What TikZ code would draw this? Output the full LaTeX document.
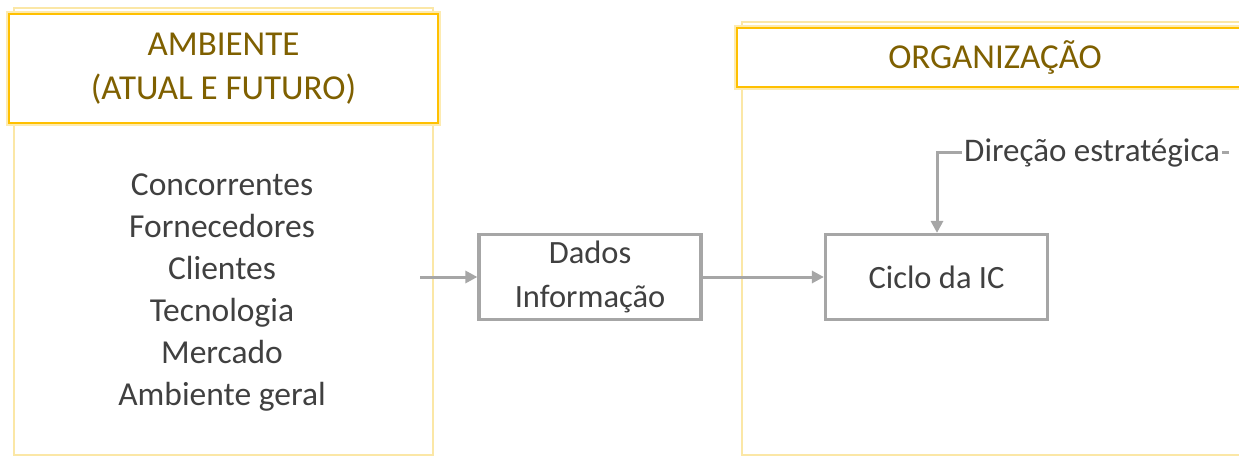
\documentclass[tikz,border=0pt]{standalone}
\usepackage{fontspec}
\setmainfont{Carlito}
\usetikzlibrary{arrows.meta}
\definecolor{gold}{HTML}{FFC000}
\definecolor{goldhalo}{HTML}{FDEBB0}
\definecolor{goldpale}{HTML}{FBE7A6}
\definecolor{goldtext}{HTML}{7F6000}
\definecolor{ink}{HTML}{404040}
\definecolor{wire}{HTML}{A6A6A6}
\tikzset{
  panel/.style={draw=goldpale, line width=1.8pt},
  header/.style={draw=gold, line width=2.8pt, fill=white,
    text=goldtext, align=center, inner sep=0pt,
    font=\fontsize{35}{44}\selectfont},
  halo/.style={draw=goldhalo, line width=6.5pt},
  listtext/.style={text=ink, align=center, inner sep=0pt,
    font=\fontsize{33.5}{42}\selectfont},
  procbox/.style={draw=wire, line width=3.2pt, fill=white, text=ink,
    align=center, inner sep=0pt, minimum width=222pt, minimum height=85pt,
    font=\fontsize{32.5}{44}\selectfont},
  flow/.style={draw=wire, line width=3pt,
    -{Triangle[length=12pt,width=12pt]}},
}
\begin{document}
\begin{tikzpicture}[x=1pt,y=-1pt]
\useasboundingbox (0,0) rectangle (1239,457);
\clip (0,0) rectangle (1239,457);

% panels for the environment and the organization
\draw[panel] (14,8) rectangle (433,455);
\draw[panel] (742,22) rectangle (1260,455);

% headers
\draw[halo] (9,14) rectangle (438,123);
\node[header, minimum width=429pt, minimum height=109pt] (amb) at (223.5,68.5)
  {AMBIENTE\\(ATUAL E FUTURO)};
\draw[halo] (737,28) rectangle (1253,87);
\node[header, minimum width=516pt, minimum height=59pt] (org) at (995,57.5)
  {ORGANIZAÇÃO};

% environment factors
\node[listtext] (fatores) at (222,293)
  {Concorrentes\\Fornecedores\\Clientes\\Tecnologia\\Mercado\\Ambiente geral};

% process boxes
\node[procbox] (dados) at (590,277) {Dados\\Informação};
\node[procbox] (ciclo) at (936.5,277) {Ciclo da IC};

% flow connectors
\coordinate (entrada) at (420,277);
\draw[flow] (entrada) -- (dados.west);
\draw[flow] (dados.east) -- (ciclo.west);

% strategic direction feed
\coordinate (dirfim) at (1229,153);
\coordinate (dircanto) at (937,153);
\draw[flow] (dirfim) -- (dircanto) -- (ciclo.north -| dircanto);
\node[fill=white, text=ink, inner sep=0pt, inner xsep=2pt,
  font=\fontsize{33}{40}\selectfont, anchor=base west] (dir) at (962,162)
  {Direção estratégica};
\end{tikzpicture}
\end{document}
